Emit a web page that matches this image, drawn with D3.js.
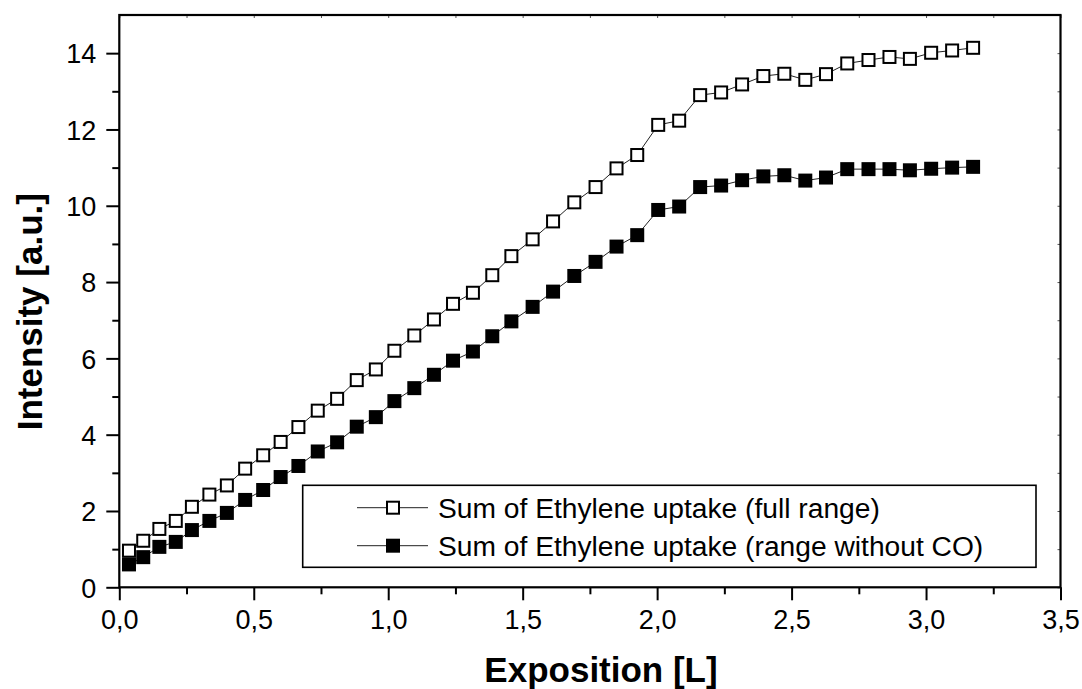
<!DOCTYPE html>
<html>
<head>
<meta charset="utf-8">
<script src="https://cdn.jsdelivr.net/npm/d3@7"></script>
<style>
  body { margin: 0; background: #fff; }
  svg { display: block; }
  text { font-family: "Liberation Sans", Arial, Helvetica, sans-serif; fill: #000; }
</style>
</head>
<body>
<script>
// Exposure (Langmuir) at each measurement
const exposition = [0.036, 0.089, 0.149, 0.21, 0.27, 0.335, 0.40, 0.468, 0.535, 0.60, 0.666, 0.738, 0.81, 0.883, 0.954, 1.023,
  1.097, 1.17, 1.241, 1.315, 1.387, 1.458, 1.537, 1.613, 1.692, 1.771, 1.849, 1.926,
  2.004,
  2.082, 2.16, 2.238, 2.316, 2.395, 2.473, 2.551, 2.628, 2.707, 2.786, 2.864, 2.94, 3.019, 3.097, 3.175];

// Summed ethylene uptake, full spectral range
const fullRange = [0.96, 1.22, 1.53, 1.74, 2.11, 2.43, 2.67, 3.11, 3.46, 3.81, 4.20, 4.63, 4.94, 5.43, 5.71, 6.20,
  6.60, 7.02, 7.43, 7.72, 8.18, 8.68, 9.12, 9.59, 10.09, 10.49, 10.98, 11.33,
  12.12,
  12.23, 12.90, 12.97, 13.18, 13.40, 13.46, 13.30, 13.45, 13.73, 13.82, 13.90, 13.85, 14.01, 14.07, 14.14];

// Summed ethylene uptake, range excluding the CO region
const withoutCO = [0.60, 0.79, 1.06, 1.19, 1.50, 1.74, 1.95, 2.29, 2.55, 2.89, 3.18, 3.56, 3.80, 4.21, 4.46, 4.88,
  5.22, 5.57, 5.94, 6.18, 6.58, 6.97, 7.35, 7.75, 8.16, 8.53, 8.93, 9.23,
  9.89,
  9.98, 10.49, 10.53, 10.67, 10.77, 10.80, 10.66, 10.74, 10.96, 10.96, 10.96, 10.93, 10.97, 11.00, 11.02];

const xTicks = [0, 0.5, 1.0, 1.5, 2.0, 2.5, 3.0, 3.5];
const xMinorTicks = [0.25, 0.75, 1.25, 1.75, 2.25, 2.75, 3.25];
const yTicks = [0, 2, 4, 6, 8, 10, 12, 14];
const yMinorTicks = [1, 3, 5, 7, 9, 11, 13];

const seriesNames = ["Sum of Ethylene uptake (full range)", "Sum of Ethylene uptake (range without CO)"];
const xTitle = "Exposition [L]";
const yTitle = "Intensity [a.u.]";

const W = 1082, H = 689;
const plot = { left: 119.3, right: 1060.5, top: 15, bottom: 587.3 };

const svg = d3.select("body").append("svg").attr("width", W).attr("height", H);

const x = d3.scaleLinear().domain([0, 3.5]).range([plot.left, plot.right]);
const y = d3.scaleLinear().domain([0, 15]).range([plot.bottom, plot.top]);

const fmtX = d => d.toFixed(1).replace(".", ",");

// Bottom axis: major ticks with labels, then minor ticks
const gx = svg.append("g").attr("transform", `translate(0,${plot.bottom})`)
  .call(d3.axisBottom(x).tickValues(xTicks).tickFormat(fmtX).tickSize(13).tickSizeOuter(0));
gx.select(".domain").remove();
gx.selectAll(".tick line").attr("stroke", "#000").attr("stroke-width", 2);
gx.selectAll(".tick text").attr("y", 42).attr("dy", null)
  .style("font-size", "27px").style("font-family", '"Liberation Sans", Arial, sans-serif');

const gxm = svg.append("g").attr("transform", `translate(0,${plot.bottom})`)
  .call(d3.axisBottom(x).tickValues(xMinorTicks).tickFormat("").tickSize(7).tickSizeOuter(0));
gxm.select(".domain").remove();
gxm.selectAll(".tick line").attr("stroke", "#000").attr("stroke-width", 2);

// Left axis
const gy = svg.append("g").attr("transform", `translate(${plot.left},0)`)
  .call(d3.axisLeft(y).tickValues(yTicks).tickFormat(d3.format("d")).tickSize(13).tickPadding(10).tickSizeOuter(0));
gy.select(".domain").remove();
gy.selectAll(".tick line").attr("stroke", "#000").attr("stroke-width", 2);
gy.selectAll(".tick text").attr("dy", "0.36em")
  .style("font-size", "27px").style("font-family", '"Liberation Sans", Arial, sans-serif');

const gym = svg.append("g").attr("transform", `translate(${plot.left},0)`)
  .call(d3.axisLeft(y).tickValues(yMinorTicks).tickFormat("").tickSize(7).tickSizeOuter(0));
gym.select(".domain").remove();
gym.selectAll(".tick line").attr("stroke", "#000").attr("stroke-width", 2);

// Small inward ticks on the top and right frame edges
const gt = svg.append("g").attr("transform", `translate(0,${plot.top})`)
  .call(d3.axisTop(x).tickValues(xTicks.concat(xMinorTicks)).tickFormat("").tickSize(-3).tickSizeOuter(0));
gt.select(".domain").remove();
gt.selectAll(".tick line").attr("stroke", "#555").attr("stroke-width", 1);

const gr = svg.append("g").attr("transform", `translate(${plot.right},0)`)
  .call(d3.axisRight(y).tickValues(yTicks.concat(yMinorTicks)).tickFormat("").tickSize(-3).tickSizeOuter(0));
gr.select(".domain").remove();
gr.selectAll(".tick line").attr("stroke", "#555").attr("stroke-width", 1);

// Frame
svg.append("rect")
  .attr("x", plot.left).attr("y", plot.top)
  .attr("width", plot.right - plot.left).attr("height", plot.bottom - plot.top)
  .attr("fill", "none").attr("stroke", "#000").attr("stroke-width", 2.2);

// Series
const series = [
  { name: seriesNames[0], values: fullRange, filled: false },
  { name: seriesNames[1], values: withoutCO, filled: true }
];

const line = d3.line().x(d => x(d[0])).y(d => y(d[1]));
const MS = 14; // marker outer size

function drawMarker(sel, filled) {
  if (filled) {
    sel.attr("x", -MS / 2).attr("y", -MS / 2).attr("width", MS).attr("height", MS)
      .attr("fill", "#000").attr("stroke", "none");
  } else {
    sel.attr("x", -MS / 2 + 1).attr("y", -MS / 2 + 1).attr("width", MS - 2).attr("height", MS - 2)
      .attr("fill", "#fff").attr("stroke", "#000").attr("stroke-width", 2);
  }
}

series.forEach(s => {
  const pts = exposition.map((e, i) => [e, s.values[i]]);
  svg.append("path").datum(pts)
    .attr("d", line).attr("fill", "none").attr("stroke", "#222").attr("stroke-width", 1);
  svg.append("g").selectAll("rect").data(pts).join("rect")
    .attr("transform", d => `translate(${x(d[0])},${y(d[1])})`)
    .call(sel => drawMarker(sel, s.filled));
});

// Legend
const legend = { x0: 302.7, y0: 485.3, x1: 1036, y1: 567.3 };
svg.append("rect")
  .attr("x", legend.x0).attr("y", legend.y0)
  .attr("width", legend.x1 - legend.x0).attr("height", legend.y1 - legend.y0)
  .attr("fill", "#fff").attr("stroke", "#000").attr("stroke-width", 1.6);

series.forEach((s, i) => {
  const cy = 507.7 + i * 38;
  const g = svg.append("g");
  g.append("line").attr("x1", 357).attr("x2", 428).attr("y1", cy).attr("y2", cy)
    .attr("stroke", "#222").attr("stroke-width", 1);
  g.append("rect").attr("transform", `translate(393,${cy})`).call(sel => drawMarker(sel, s.filled));
  g.append("text").attr("x", 438).attr("y", cy + 10)
    .style("font-size", "28.2px").text(s.name);
});

// Axis titles
svg.append("text")
  .attr("x", 601).attr("y", 682).attr("text-anchor", "middle")
  .style("font-size", "35px").style("font-weight", "bold").text(xTitle);

svg.append("text")
  .attr("transform", "translate(42,311.7) rotate(-90)")
  .attr("text-anchor", "middle")
  .style("font-size", "35px").style("font-weight", "bold").text(yTitle);
</script>
</body>
</html>
